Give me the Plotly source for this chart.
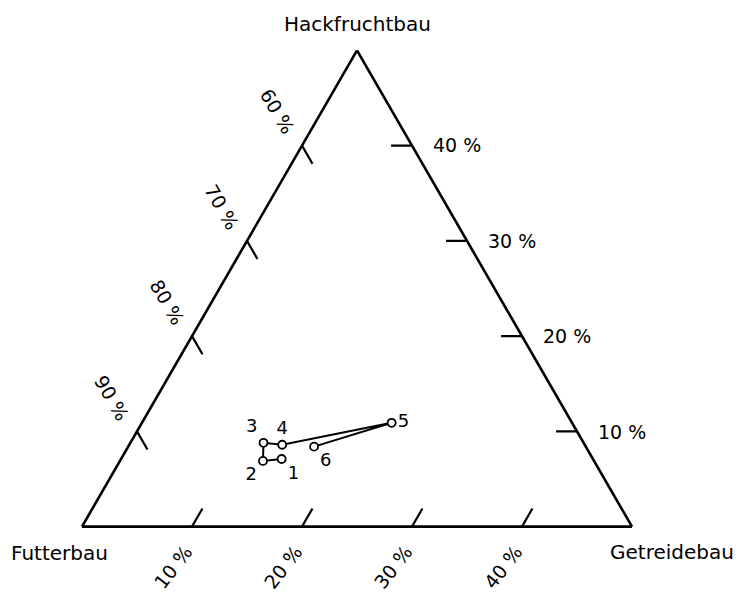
import plotly.graph_objects as go

# ---- data (percent of cropland) ----
point_labels = ["1", "2", "3", "4", "5", "6"]
hackfrucht = [7.1, 6.9, 8.8, 8.6, 10.9, 8.4]      # top vertex
futter = [78.3, 80.1, 79.1, 77.5, 66.4, 74.7]     # bottom-left vertex
getreide = [14.6, 13.0, 12.1, 13.9, 22.7, 16.9]   # bottom-right vertex
label_pos = ["bottom right", "bottom left", "top left", "top center", "middle right", "bottom right"]

hack_ticks = [10, 20, 30, 40]
futter_ticks = [60, 70, 80, 90]
getreide_ticks = [10, 20, 30, 40]

A_MIN, B_MIN, C_MIN = 0, 50, 0
SUM = 100
SPAN = SUM - A_MIN - B_MIN - C_MIN
TL = 1.9  # tick length in percent units

FONT = "DejaVu Sans"


def to_paper(a, b, c):
    la = (a - A_MIN) / SPAN
    lc = (c - C_MIN) / SPAN
    return 0.5 * la + lc, la


fig = go.Figure()

# tick marks (stubs of grid lines, drawn inward from each edge)
ta, tb, tc = [], [], []
for v in hack_ticks:          # right edge, constant Hackfrucht
    ta += [v, v, None]; tb += [B_MIN, B_MIN + TL, None]; tc += [SUM - B_MIN - v, SUM - B_MIN - v - TL, None]
for v in futter_ticks:        # left edge, constant Futter
    ta += [SUM - v, SUM - v - TL, None]; tb += [v, v, None]; tc += [0, TL, None]
for v in getreide_ticks:      # bottom edge, constant Getreide
    ta += [0, TL, None]; tb += [SUM - v, SUM - v - TL, None]; tc += [v, v, None]
fig.add_trace(go.Scatterternary(a=ta, b=tb, c=tc, mode="lines",
                                line=dict(color="black", width=2.2),
                                hoverinfo="skip", showlegend=False, connectgaps=False))

# data path
fig.add_trace(go.Scatterternary(
    a=hackfrucht, b=futter, c=getreide, mode="lines+markers+text",
    text=point_labels, textposition=label_pos,
    textfont=dict(family=FONT, size=18, color="black"),
    line=dict(color="black", width=2),
    marker=dict(symbol="circle", size=8, color="white", line=dict(color="black", width=1.8)),
    showlegend=False))

axis_style = dict(showgrid=False, showticklabels=False, ticks="", linecolor="black", linewidth=2.6,
                  title=dict(text=""))

annotations = []
# right-edge labels (Hackfruchtbau)
for v in hack_ticks:
    x, y = to_paper(v, B_MIN, SUM - B_MIN - v)
    annotations.append(dict(x=x, y=y, xref="paper", yref="paper", text=f"{v} %", showarrow=False,
                            xanchor="left", yanchor="middle", xshift=19, font=dict(family=FONT, size=19)))
# left-edge labels (Futterbau)
for v in futter_ticks:
    x, y = to_paper(SUM - v, v, 0)
    annotations.append(dict(x=x, y=y, xref="paper", yref="paper", text=f"{v} %", showarrow=False,
                            xanchor="center", yanchor="middle", xshift=-25, yshift=34, textangle=60,
                            font=dict(family=FONT, size=19)))
# bottom-edge labels (Getreidebau)
for v in getreide_ticks:
    x, y = to_paper(0, SUM - v, v)
    annotations.append(dict(x=x, y=y, xref="paper", yref="paper", text=f"{v} %", showarrow=False,
                            xanchor="center", yanchor="middle", xshift=-19, yshift=-40, textangle=-52,
                            font=dict(family=FONT, size=19)))
# vertex names
annotations.append(dict(x=0.5, y=1, xref="paper", yref="paper", text="Hackfruchtbau", showarrow=False,
                        xanchor="center", yanchor="middle", yshift=26, font=dict(family=FONT, size=20)))
annotations.append(dict(x=0, y=0, xref="paper", yref="paper", text="Futterbau", showarrow=False,
                        xanchor="center", yanchor="middle", xshift=-23, yshift=-26, font=dict(family=FONT, size=20)))
annotations.append(dict(x=1, y=0, xref="paper", yref="paper", text="Getreidebau", showarrow=False,
                        xanchor="center", yanchor="middle", xshift=40, yshift=-25, font=dict(family=FONT, size=20)))

fig.update_layout(
    width=742, height=594,
    margin=dict(l=74, r=118, t=42, b=75),
    paper_bgcolor="white",
    font=dict(family=FONT, color="black"),
    ternary=dict(sum=SUM, bgcolor="white", domain=dict(x=[0, 1], y=[0, 1]),
                 aaxis=dict(min=A_MIN, **axis_style),
                 baxis=dict(min=B_MIN, **axis_style),
                 caxis=dict(min=C_MIN, **axis_style)),
    annotations=annotations,
)

fig.write_html("out.html")
